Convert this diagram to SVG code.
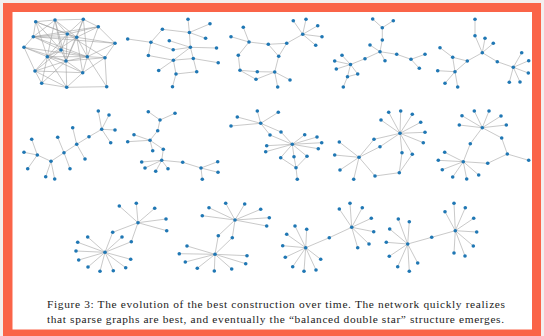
<svg xmlns="http://www.w3.org/2000/svg" width="544" height="336" viewBox="0 0 544 336">
<style>
.nd{fill:#1f77b4}
.ed{fill:none;stroke:#b2b2b2;stroke-width:.7}
.ed.dense{stroke:#9a9a9a;stroke-width:.55}
.cap{font-family:"Liberation Serif","DejaVu Serif",serif;font-size:11.4px;fill:#222}
</style>
<!-- page and frame -->
<rect x="0" y="0" width="544" height="336" fill="#f3efee"/>
<rect x="3" y="3" width="538" height="333" fill="#fa6448"/>
<rect x="12.5" y="12" width="519.5" height="317.5" fill="#fff"/>

<!-- connectors -->
<g id="connectors">
<path id="e1" class="ed dense" d="M35.7 21.7L55 20M35.7 21.7L33.3 36.7M35.7 21.7L67.3 34M35.7 21.7L47.3 56.7M35.7 21.7L61 50M35.7 21.7L76.7 37.3M55 20L83.3 19.3M55 20L33.3 36.7M55 20L67.3 34M55 20L76.7 37.3M55 20L47.3 56.7M55 20L66 61M55 20L61 50M83.3 19.3L98.3 26.7M83.3 19.3L67.3 34M83.3 19.3L76.7 37.3M83.3 19.3L87.3 56.7M83.3 19.3L66 61M98.3 26.7L76.7 37.3M98.3 26.7L115 43.3M98.3 26.7L33.3 36.7M98.3 26.7L87.3 56.7M98.3 26.7L67.3 34M33.3 36.7L24 47.3M33.3 36.7L67.3 34M33.3 36.7L76.7 37.3M33.3 36.7L87.3 56.7M33.3 36.7L61 50M33.3 36.7L115 43.3M67.3 34L76.7 37.3M67.3 34L61 50M67.3 34L66 61M67.3 34L105 57.7M67.3 34L47.3 56.7M76.7 37.3L115 43.3M76.7 37.3L66 61M76.7 37.3L87.3 56.7M76.7 37.3L82.7 72.7M76.7 37.3L47.3 56.7M115 43.3L105 57.7M115 43.3L87.3 56.7M24 47.3L47.3 56.7M24 47.3L35 71M24 47.3L87.3 56.7M24 47.3L66 61M61 50L47.3 56.7M61 50L66 61M61 50L35 71M61 50L87.3 56.7M47.3 56.7L66 61M47.3 56.7L87.3 56.7M47.3 56.7L35 71M47.3 56.7L41.7 83.3M47.3 56.7L66.7 87.3M47.3 56.7L82.7 72.7M66 61L87.3 56.7M66 61L82.7 72.7M66 61L66.7 87.3M66 61L35 71M66 61L41.7 83.3M66 61L105 57.7M87.3 56.7L105 57.7M87.3 56.7L82.7 72.7M87.3 56.7L106.7 86.7M105 57.7L106.7 86.7M105 57.7L82.7 72.7M35 71L82.7 72.7M35 71L41.7 83.3M35 71L66.7 87.3M41.7 83.3L66.7 87.3M66.7 87.3L106.7 86.7M66.7 87.3L82.7 72.7"/>
<path id="e2" class="ed" d="M127.7 39L150.9 42.3M150.9 42.3L162.4 29.3M162.4 29.3L189.4 32.5M188 19.2L189.4 32.5M210 23.8L189.4 32.5M189.4 32.5L205.6 38.3M189.4 32.5L190.4 47.3M169.3 40.7L190.4 47.3M150.9 42.3L173.2 49.8M173.2 49.8L190.4 47.3M190.4 47.3L216.5 48M190.4 47.3L173.4 60.2M190.4 47.3L193.3 58.5M193.3 58.5L218.2 62.7M148.4 55.5L150.9 42.3M148.4 55.5L173.4 60.2M173.4 60.2L193.3 58.5M173.4 60.2L158.7 70.5M173.4 60.2L176 74M176 74L196.7 71.7M196.7 71.7L193.3 58.5M176 74L172.5 86.8"/>
<path id="e3" class="ed" d="M243.3 27.3L249 42M231 36.7L249 42M249 42L268.3 44.3M268.3 44.3L286.7 43.3M286.7 43.3L302.7 34.3M302.7 34.3L293.3 20.7M302.7 34.3L306 19.3M302.7 34.3L317.7 25.7M302.7 34.3L322 36.7M302.7 34.3L315.7 45.3M286.7 43.3L278.7 56.3M268.3 44.3L278.7 56.3M249 42L238.3 55.3M238.3 55.3L240 70.3M240 70.3L257.3 71.7M257.3 71.7L274.7 72M240 70.3L256 79.3M256 79.3L274.7 72M278.7 56.3L274.7 72M274.7 72L290 80M274.7 72L277.7 87"/>
<path id="e4" class="ed" d="M372.7 19L382.3 27.7M393.3 20.7L382.3 27.7M382.3 27.7L382.3 40M382.3 40L380 51.7M370 45L380 51.7M380 51.7L385 60.7M380 51.7L396.7 54.3M380 51.7L365 58.7M365 58.7L350.5 64.5M396.7 54.3L411 59.3M411 59.3L425 54.3M411 59.3L419.3 68.3M350.5 64.5L342 55.3M350.5 64.5L334.7 61M350.5 64.5L336.3 69M350.5 64.5L347.5 76.7M350.5 64.5L357.7 74M347.5 76.7L357.7 74M347.5 76.7L343.3 87"/>
<path id="e5" class="ed" d="M475 19.3L475 35.7M475 35.7L482.3 52.7M485 38.3L482.3 52.7M493.3 43.3L482.3 52.7M482.3 52.7L467.3 61M482.3 52.7L497.3 61.7M497.3 61.7L513.3 67.3M513.3 67.3L521.7 52.7M513.3 67.3L528.7 60.7M513.3 67.3L528.3 73M513.3 67.3L520 82M513.3 67.3L509.3 82.3M467.3 61L452.7 57.3M452.7 57.3L440 47.7M467.3 61L455 71.7M452.7 57.3L455 71.7M455 71.7L437.7 70.7M455 71.7L445 83.3M455 71.7L457.7 87"/>
<path id="e6" class="ed" d="M101.7 129.3L98.3 111M101.7 129.3L109 115M101.7 129.3L115 130M101.7 129.3L110.7 142.7M101.7 129.3L89 136.7M89 136.7L76.7 144.3M76.7 144.3L72.7 127.7M76.7 144.3L85 159M76.7 144.3L64 152.7M64 152.7L57.7 137.3M64 152.7L70 168.7M64 152.7L51 161.3M51 161.3L37.3 155M51 161.3L45.7 176.7M51 161.3L54.7 179M37.3 155L31.7 139.3M37.3 155L24 152.3M37.3 155L27.7 168.7"/>
<path id="e7" class="ed" d="M148.3 111.7L160 120M160 120L175 113.3M160 120L157.7 130.7M157.7 130.7L150 140.3M150 140.3L134 134.7M150 140.3L127.7 141.7M150 140.3L152.7 150.7M150 140.3L163.3 149.3M163.3 149.3L161.7 160.3M161.7 160.3L141.7 162M161.7 160.3L145 168M161.7 160.3L155.7 171.3M161.7 160.3L168 168.7M161.7 160.3L182.7 162.3M182.7 162.3L201 168M201 168L217.7 161.7M201 168L218 172.3M201 168L202.3 179.3"/>
<path id="e8" class="ed" d="M260.7 123.3L257.3 111M260.7 123.3L278.3 112.3M260.7 123.3L237.3 117M260.7 123.3L231 126M260.7 123.3L270 135M260.7 123.3L281 132M270 135L292.3 144.3M281 132L292.3 144.3M292.3 144.3L304.7 134.7M292.3 144.3L317 137M292.3 144.3L321.7 142.7M292.3 144.3L318.3 148.7M292.3 144.3L266.7 145.7M292.3 144.3L265.7 151.7M292.3 144.3L280.7 157.7M292.3 144.3L294 156.7M292.3 144.3L307 156.3M280.7 157.7L296 167.7M294 156.7L296 167.7M307 156.3L296 167.7M296 167.7L297.3 179.3"/>
<path id="e9" class="ed" d="M400 133.3L388.7 112.3M400 133.3L400.7 111M400 133.3L412.3 114.3M400 133.3L381 120M400 133.3L420.7 122.3M400 133.3L425 132.3M400 133.3L423.3 142.7M400 133.3L374 139.3M400 133.3L380 146.7M400 133.3L402 152.7M400 133.3L412.3 154.3M374 139.3L359 157.3M380 146.7L359 157.3M402 152.7L399.3 172.7M412.3 154.3L399.3 172.7M399.3 172.7L375 176M375 176L359 157.3M359 157.3L339.3 142M359 157.3L334.7 155M359 157.3L340 170M359 157.3L353.7 179.3"/>
<path id="e10" class="ed" d="M482.3 127.7L462 115.7M482.3 127.7L474.3 111M482.3 127.7L489 111M482.3 127.7L501 116M482.3 127.7L459.3 125M482.3 127.7L506.3 125M482.3 127.7L501.7 138M501.7 138L507.3 154M507.3 154L528.7 160.3M507.3 154L487.7 163.3M487.7 163.3L463.3 161.7M482.3 127.7L470.3 143.7M470.3 143.7L463.3 161.7M463.3 161.7L444.7 152.3M463.3 161.7L438.3 160.3M463.3 161.7L442.3 169.7M463.3 161.7L452.7 177M463.3 161.7L466.7 179M463.3 161.7L478.7 175"/>
<path id="e11" class="ed" d="M138 222.7L119.3 206M138 222.7L136.3 203.3M138 222.7L154.7 208.3M138 222.7L166 219M138 222.7L166.7 230.7M138 222.7L112.7 232.3M138 222.7L131.3 241.7M112.7 232.3L105 252.3M131.3 241.7L105 252.3M122 237L105 252.3M105 252.3L87.7 237M105 252.3L77.7 242.3M105 252.3L76 251M105 252.3L78.7 260M105 252.3L88 267M105 252.3L100 271.3M105 252.3L113.3 270.7M105 252.3L125.7 267.7M105 252.3L130.7 259.3"/>
<path id="e12" class="ed" d="M235 220L209 207.7M235 220L225.7 203.3M235 220L244.7 204M235 220L260.7 209.3M235 220L202.3 215.7M235 220L269.3 217.7M235 220L266.7 226M235 220L218.3 235.7M218.3 235.7L215 254.3M235 220L232.3 237.7M232.3 237.7L215 254.3M215 254.3L187 246M215 254.3L179.3 253.7M215 254.3L185.3 262M215 254.3L197.3 268.3M215 254.3L214.3 271M215 254.3L231.7 269M215 254.3L245.7 263.7M215 254.3L247 255.7"/>
<path id="e13" class="ed" d="M351.7 227.3L350 203.3M351.7 227.3L362.3 207.7M351.7 227.3L339.3 209M351.7 227.3L371.3 218.3M351.7 227.3L373.7 231.7M351.7 227.3L369 244M351.7 227.3L357.7 247.7M351.7 227.3L329.3 237.7M329.3 237.7L305.7 247.7M305.7 247.7L295 226M305.7 247.7L306.7 229.3M305.7 247.7L286.7 234.3M305.7 247.7L282.7 245.7M305.7 247.7L285.3 257.3M305.7 247.7L292.7 266.7M305.7 247.7L304 271.3M305.7 247.7L316 270M305.7 247.7L320.7 259.3"/>
<path id="e14" class="ed" d="M455.3 230.7L454 203.3M455.3 230.7L445 211.7M455.3 230.7L465.3 207.7M455.3 230.7L473.7 218.3M455.3 230.7L476.7 232M455.3 230.7L473.3 246M455.3 230.7L465 256M455.3 230.7L454 253M455.3 230.7L431.7 237.3M431.7 237.3L407.7 244M407.7 244L398.3 219M407.7 244L409.3 221.7M407.7 244L389.7 229M407.7 244L386.3 242.3M407.7 244L389.3 256.3M407.7 244L397.7 266.7M407.7 244L409.3 271.3M407.7 244L417.7 263"/>
</g>

<!-- graph nodes -->
<g id="graph1">
<circle id="s1-a" class="nd" cx="35.7" cy="21.7" r="1.8"/><circle id="s1-b" class="nd" cx="55" cy="20" r="1.8"/><circle id="s1-c" class="nd" cx="83.3" cy="19.3" r="1.8"/><circle id="s1-d" class="nd" cx="98.3" cy="26.7" r="1.8"/><circle id="s1-e" class="nd" cx="33.3" cy="36.7" r="1.8"/><circle id="s1-f" class="nd" cx="67.3" cy="34" r="1.8"/><circle id="s1-g" class="nd" cx="76.7" cy="37.3" r="1.8"/><circle id="s1-h" class="nd" cx="115" cy="43.3" r="1.8"/><circle id="s1-i" class="nd" cx="24" cy="47.3" r="1.8"/><circle id="s1-j" class="nd" cx="61" cy="50" r="1.8"/><circle id="s1-k" class="nd" cx="47.3" cy="56.7" r="1.8"/><circle id="s1-l" class="nd" cx="66" cy="61" r="1.8"/><circle id="s1-m" class="nd" cx="87.3" cy="56.7" r="1.8"/><circle id="s1-n" class="nd" cx="105" cy="57.7" r="1.8"/><circle id="s1-o" class="nd" cx="35" cy="71" r="1.8"/><circle id="s1-p" class="nd" cx="82.7" cy="72.7" r="1.8"/><circle id="s1-q" class="nd" cx="41.7" cy="83.3" r="1.8"/><circle id="s1-r" class="nd" cx="66.7" cy="87.3" r="1.8"/><circle id="s1-s" class="nd" cx="106.7" cy="86.7" r="1.8"/>
</g>
<g id="graph2">
<circle id="s2-1" class="nd" cx="127.7" cy="39" r="1.8"/><circle id="s2-2" class="nd" cx="150.9" cy="42.3" r="1.8"/><circle id="s2-3" class="nd" cx="162.4" cy="29.3" r="1.8"/><circle id="s2-4" class="nd" cx="188" cy="19.2" r="1.8"/><circle id="s2-5" class="nd" cx="210" cy="23.8" r="1.8"/><circle id="s2-6" class="nd" cx="189.4" cy="32.5" r="1.8"/><circle id="s2-7" class="nd" cx="169.3" cy="40.7" r="1.8"/><circle id="s2-8" class="nd" cx="205.6" cy="38.3" r="1.8"/><circle id="s2-9" class="nd" cx="173.2" cy="49.8" r="1.8"/><circle id="s2-10" class="nd" cx="190.4" cy="47.3" r="1.8"/><circle id="s2-11" class="nd" cx="216.5" cy="48" r="1.8"/><circle id="s2-12" class="nd" cx="148.4" cy="55.5" r="1.8"/><circle id="s2-13" class="nd" cx="173.4" cy="60.2" r="1.8"/><circle id="s2-14" class="nd" cx="193.3" cy="58.5" r="1.8"/><circle id="s2-15" class="nd" cx="218.2" cy="62.7" r="1.8"/><circle id="s2-16" class="nd" cx="158.7" cy="70.5" r="1.8"/><circle id="s2-17" class="nd" cx="176" cy="74" r="1.8"/><circle id="s2-18" class="nd" cx="196.7" cy="71.7" r="1.8"/><circle id="s2-19" class="nd" cx="172.5" cy="86.8" r="1.8"/>
</g>
<g id="graph3">
<circle id="s3-1" class="nd" cx="243.3" cy="27.3" r="1.8"/><circle id="s3-2" class="nd" cx="231" cy="36.7" r="1.8"/><circle id="s3-3" class="nd" cx="249" cy="42" r="1.8"/><circle id="s3-4" class="nd" cx="268.3" cy="44.3" r="1.8"/><circle id="s3-5" class="nd" cx="286.7" cy="43.3" r="1.8"/><circle id="s3-6" class="nd" cx="302.7" cy="34.3" r="1.8"/><circle id="s3-7" class="nd" cx="293.3" cy="20.7" r="1.8"/><circle id="s3-8" class="nd" cx="306" cy="19.3" r="1.8"/><circle id="s3-9" class="nd" cx="317.7" cy="25.7" r="1.8"/><circle id="s3-10" class="nd" cx="322" cy="36.7" r="1.8"/><circle id="s3-11" class="nd" cx="315.7" cy="45.3" r="1.8"/><circle id="s3-12" class="nd" cx="238.3" cy="55.3" r="1.8"/><circle id="s3-13" class="nd" cx="278.7" cy="56.3" r="1.8"/><circle id="s3-14" class="nd" cx="240" cy="70.3" r="1.8"/><circle id="s3-15" class="nd" cx="257.3" cy="71.7" r="1.8"/><circle id="s3-16" class="nd" cx="274.7" cy="72" r="1.8"/><circle id="s3-17" class="nd" cx="256" cy="79.3" r="1.8"/><circle id="s3-18" class="nd" cx="290" cy="80" r="1.8"/><circle id="s3-19" class="nd" cx="277.7" cy="87" r="1.8"/>
</g>
<g id="graph4">
<circle id="s4-1" class="nd" cx="372.7" cy="19" r="1.8"/><circle id="s4-2" class="nd" cx="393.3" cy="20.7" r="1.8"/><circle id="s4-3" class="nd" cx="382.3" cy="27.7" r="1.8"/><circle id="s4-4" class="nd" cx="382.3" cy="40" r="1.8"/><circle id="s4-5" class="nd" cx="370" cy="45" r="1.8"/><circle id="s4-6" class="nd" cx="380" cy="51.7" r="1.8"/><circle id="s4-7" class="nd" cx="365" cy="58.7" r="1.8"/><circle id="s4-8" class="nd" cx="385" cy="60.7" r="1.8"/><circle id="s4-9" class="nd" cx="396.7" cy="54.3" r="1.8"/><circle id="s4-10" class="nd" cx="411" cy="59.3" r="1.8"/><circle id="s4-11" class="nd" cx="425" cy="54.3" r="1.8"/><circle id="s4-12" class="nd" cx="419.3" cy="68.3" r="1.8"/><circle id="s4-13" class="nd" cx="350.5" cy="64.5" r="1.8"/><circle id="s4-14" class="nd" cx="342" cy="55.3" r="1.8"/><circle id="s4-15" class="nd" cx="334.7" cy="61" r="1.8"/><circle id="s4-16" class="nd" cx="336.3" cy="69" r="1.8"/><circle id="s4-17" class="nd" cx="347.5" cy="76.7" r="1.8"/><circle id="s4-18" class="nd" cx="357.7" cy="74" r="1.8"/><circle id="s4-19" class="nd" cx="343.3" cy="87" r="1.8"/>
</g>
<g id="graph5">
<circle id="s5-1" class="nd" cx="475" cy="19.3" r="1.8"/><circle id="s5-2" class="nd" cx="475" cy="35.7" r="1.8"/><circle id="s5-3" class="nd" cx="485" cy="38.3" r="1.8"/><circle id="s5-4" class="nd" cx="493.3" cy="43.3" r="1.8"/><circle id="s5-5" class="nd" cx="482.3" cy="52.7" r="1.8"/><circle id="s5-6" class="nd" cx="440" cy="47.7" r="1.8"/><circle id="s5-7" class="nd" cx="452.7" cy="57.3" r="1.8"/><circle id="s5-8" class="nd" cx="467.3" cy="61" r="1.8"/><circle id="s5-9" class="nd" cx="437.7" cy="70.7" r="1.8"/><circle id="s5-10" class="nd" cx="455" cy="71.7" r="1.8"/><circle id="s5-11" class="nd" cx="445" cy="83.3" r="1.8"/><circle id="s5-12" class="nd" cx="457.7" cy="87" r="1.8"/><circle id="s5-13" class="nd" cx="497.3" cy="61.7" r="1.8"/><circle id="s5-14" class="nd" cx="513.3" cy="67.3" r="1.8"/><circle id="s5-15" class="nd" cx="521.7" cy="52.7" r="1.8"/><circle id="s5-16" class="nd" cx="528.7" cy="60.7" r="1.8"/><circle id="s5-17" class="nd" cx="528.3" cy="73" r="1.8"/><circle id="s5-18" class="nd" cx="520" cy="82" r="1.8"/><circle id="s5-19" class="nd" cx="509.3" cy="82.3" r="1.8"/>
</g>
<g id="graph6">
<circle id="s6-1" class="nd" cx="98.3" cy="111" r="1.8"/><circle id="s6-2" class="nd" cx="109" cy="115" r="1.8"/><circle id="s6-3" class="nd" cx="101.7" cy="129.3" r="1.8"/><circle id="s6-4" class="nd" cx="115" cy="130" r="1.8"/><circle id="s6-5" class="nd" cx="110.7" cy="142.7" r="1.8"/><circle id="s6-6" class="nd" cx="89" cy="136.7" r="1.8"/><circle id="s6-7" class="nd" cx="72.7" cy="127.7" r="1.8"/><circle id="s6-8" class="nd" cx="76.7" cy="144.3" r="1.8"/><circle id="s6-9" class="nd" cx="85" cy="159" r="1.8"/><circle id="s6-10" class="nd" cx="57.7" cy="137.3" r="1.8"/><circle id="s6-11" class="nd" cx="64" cy="152.7" r="1.8"/><circle id="s6-12" class="nd" cx="70" cy="168.7" r="1.8"/><circle id="s6-13" class="nd" cx="31.7" cy="139.3" r="1.8"/><circle id="s6-14" class="nd" cx="37.3" cy="155" r="1.8"/><circle id="s6-15" class="nd" cx="24" cy="152.3" r="1.8"/><circle id="s6-16" class="nd" cx="27.7" cy="168.7" r="1.8"/><circle id="s6-17" class="nd" cx="51" cy="161.3" r="1.8"/><circle id="s6-18" class="nd" cx="45.7" cy="176.7" r="1.8"/><circle id="s6-19" class="nd" cx="54.7" cy="179" r="1.8"/>
</g>
<g id="graph7">
<circle id="s7-1" class="nd" cx="148.3" cy="111.7" r="1.8"/><circle id="s7-2" class="nd" cx="160" cy="120" r="1.8"/><circle id="s7-3" class="nd" cx="175" cy="113.3" r="1.8"/><circle id="s7-4" class="nd" cx="157.7" cy="130.7" r="1.8"/><circle id="s7-5" class="nd" cx="134" cy="134.7" r="1.8"/><circle id="s7-6" class="nd" cx="127.7" cy="141.7" r="1.8"/><circle id="s7-7" class="nd" cx="150" cy="140.3" r="1.8"/><circle id="s7-8" class="nd" cx="152.7" cy="150.7" r="1.8"/><circle id="s7-9" class="nd" cx="163.3" cy="149.3" r="1.8"/><circle id="s7-10" class="nd" cx="161.7" cy="160.3" r="1.8"/><circle id="s7-11" class="nd" cx="141.7" cy="162" r="1.8"/><circle id="s7-12" class="nd" cx="145" cy="168" r="1.8"/><circle id="s7-13" class="nd" cx="155.7" cy="171.3" r="1.8"/><circle id="s7-14" class="nd" cx="168" cy="168.7" r="1.8"/><circle id="s7-15" class="nd" cx="182.7" cy="162.3" r="1.8"/><circle id="s7-16" class="nd" cx="201" cy="168" r="1.8"/><circle id="s7-17" class="nd" cx="217.7" cy="161.7" r="1.8"/><circle id="s7-18" class="nd" cx="218" cy="172.3" r="1.8"/><circle id="s7-19" class="nd" cx="202.3" cy="179.3" r="1.8"/>
</g>
<g id="graph8">
<circle id="s8-1" class="nd" cx="257.3" cy="111" r="1.8"/><circle id="s8-2" class="nd" cx="278.3" cy="112.3" r="1.8"/><circle id="s8-3" class="nd" cx="237.3" cy="117" r="1.8"/><circle id="s8-4" class="nd" cx="231" cy="126" r="1.8"/><circle id="s8-5" class="nd" cx="260.7" cy="123.3" r="1.8"/><circle id="s8-6" class="nd" cx="270" cy="135" r="1.8"/><circle id="s8-7" class="nd" cx="281" cy="132" r="1.8"/><circle id="s8-8" class="nd" cx="292.3" cy="144.3" r="1.8"/><circle id="s8-9" class="nd" cx="304.7" cy="134.7" r="1.8"/><circle id="s8-10" class="nd" cx="317" cy="137" r="1.8"/><circle id="s8-11" class="nd" cx="321.7" cy="142.7" r="1.8"/><circle id="s8-12" class="nd" cx="318.3" cy="148.7" r="1.8"/><circle id="s8-13" class="nd" cx="266.7" cy="145.7" r="1.8"/><circle id="s8-14" class="nd" cx="265.7" cy="151.7" r="1.8"/><circle id="s8-15" class="nd" cx="280.7" cy="157.7" r="1.8"/><circle id="s8-16" class="nd" cx="294" cy="156.7" r="1.8"/><circle id="s8-17" class="nd" cx="307" cy="156.3" r="1.8"/><circle id="s8-18" class="nd" cx="296" cy="167.7" r="1.8"/><circle id="s8-19" class="nd" cx="297.3" cy="179.3" r="1.8"/>
</g>
<g id="graph9">
<circle id="s9-1" class="nd" cx="388.7" cy="112.3" r="1.8"/><circle id="s9-2" class="nd" cx="400.7" cy="111" r="1.8"/><circle id="s9-3" class="nd" cx="412.3" cy="114.3" r="1.8"/><circle id="s9-4" class="nd" cx="381" cy="120" r="1.8"/><circle id="s9-5" class="nd" cx="420.7" cy="122.3" r="1.8"/><circle id="s9-6" class="nd" cx="425" cy="132.3" r="1.8"/><circle id="s9-7" class="nd" cx="400" cy="133.3" r="1.8"/><circle id="s9-8" class="nd" cx="423.3" cy="142.7" r="1.8"/><circle id="s9-9" class="nd" cx="374" cy="139.3" r="1.8"/><circle id="s9-10" class="nd" cx="380" cy="146.7" r="1.8"/><circle id="s9-11" class="nd" cx="402" cy="152.7" r="1.8"/><circle id="s9-12" class="nd" cx="412.3" cy="154.3" r="1.8"/><circle id="s9-13" class="nd" cx="359" cy="157.3" r="1.8"/><circle id="s9-14" class="nd" cx="399.3" cy="172.7" r="1.8"/><circle id="s9-15" class="nd" cx="375" cy="176" r="1.8"/><circle id="s9-16" class="nd" cx="339.3" cy="142" r="1.8"/><circle id="s9-17" class="nd" cx="334.7" cy="155" r="1.8"/><circle id="s9-18" class="nd" cx="340" cy="170" r="1.8"/><circle id="s9-19" class="nd" cx="353.7" cy="179.3" r="1.8"/>
</g>
<g id="graph10">
<circle id="s10-1" class="nd" cx="462" cy="115.7" r="1.8"/><circle id="s10-2" class="nd" cx="474.3" cy="111" r="1.8"/><circle id="s10-3" class="nd" cx="489" cy="111" r="1.8"/><circle id="s10-4" class="nd" cx="501" cy="116" r="1.8"/><circle id="s10-5" class="nd" cx="459.3" cy="125" r="1.8"/><circle id="s10-6" class="nd" cx="506.3" cy="125" r="1.8"/><circle id="s10-7" class="nd" cx="482.3" cy="127.7" r="1.8"/><circle id="s10-8" class="nd" cx="501.7" cy="138" r="1.8"/><circle id="s10-9" class="nd" cx="470.3" cy="143.7" r="1.8"/><circle id="s10-10" class="nd" cx="507.3" cy="154" r="1.8"/><circle id="s10-11" class="nd" cx="528.7" cy="160.3" r="1.8"/><circle id="s10-12" class="nd" cx="444.7" cy="152.3" r="1.8"/><circle id="s10-13" class="nd" cx="438.3" cy="160.3" r="1.8"/><circle id="s10-14" class="nd" cx="463.3" cy="161.7" r="1.8"/><circle id="s10-15" class="nd" cx="487.7" cy="163.3" r="1.8"/><circle id="s10-16" class="nd" cx="442.3" cy="169.7" r="1.8"/><circle id="s10-17" class="nd" cx="452.7" cy="177" r="1.8"/><circle id="s10-18" class="nd" cx="466.7" cy="179" r="1.8"/><circle id="s10-19" class="nd" cx="478.7" cy="175" r="1.8"/>
</g>
<g id="graph11">
<circle id="s11-1" class="nd" cx="119.3" cy="206" r="1.8"/><circle id="s11-2" class="nd" cx="136.3" cy="203.3" r="1.8"/><circle id="s11-3" class="nd" cx="154.7" cy="208.3" r="1.8"/><circle id="s11-4" class="nd" cx="166" cy="219" r="1.8"/><circle id="s11-5" class="nd" cx="166.7" cy="230.7" r="1.8"/><circle id="s11-6" class="nd" cx="138" cy="222.7" r="1.8"/><circle id="s11-7" class="nd" cx="112.7" cy="232.3" r="1.8"/><circle id="s11-8" class="nd" cx="122" cy="237" r="1.8"/><circle id="s11-9" class="nd" cx="131.3" cy="241.7" r="1.8"/><circle id="s11-10" class="nd" cx="105" cy="252.3" r="1.8"/><circle id="s11-11" class="nd" cx="87.7" cy="237" r="1.8"/><circle id="s11-12" class="nd" cx="77.7" cy="242.3" r="1.8"/><circle id="s11-13" class="nd" cx="76" cy="251" r="1.8"/><circle id="s11-14" class="nd" cx="78.7" cy="260" r="1.8"/><circle id="s11-15" class="nd" cx="88" cy="267" r="1.8"/><circle id="s11-16" class="nd" cx="100" cy="271.3" r="1.8"/><circle id="s11-17" class="nd" cx="113.3" cy="270.7" r="1.8"/><circle id="s11-18" class="nd" cx="125.7" cy="267.7" r="1.8"/><circle id="s11-19" class="nd" cx="130.7" cy="259.3" r="1.8"/>
</g>
<g id="graph12">
<circle id="s12-1" class="nd" cx="209" cy="207.7" r="1.8"/><circle id="s12-2" class="nd" cx="225.7" cy="203.3" r="1.8"/><circle id="s12-3" class="nd" cx="244.7" cy="204" r="1.8"/><circle id="s12-4" class="nd" cx="260.7" cy="209.3" r="1.8"/><circle id="s12-5" class="nd" cx="202.3" cy="215.7" r="1.8"/><circle id="s12-6" class="nd" cx="235" cy="220" r="1.8"/><circle id="s12-7" class="nd" cx="269.3" cy="217.7" r="1.8"/><circle id="s12-8" class="nd" cx="266.7" cy="226" r="1.8"/><circle id="s12-9" class="nd" cx="218.3" cy="235.7" r="1.8"/><circle id="s12-10" class="nd" cx="232.3" cy="237.7" r="1.8"/><circle id="s12-11" class="nd" cx="215" cy="254.3" r="1.8"/><circle id="s12-12" class="nd" cx="187" cy="246" r="1.8"/><circle id="s12-13" class="nd" cx="179.3" cy="253.7" r="1.8"/><circle id="s12-14" class="nd" cx="185.3" cy="262" r="1.8"/><circle id="s12-15" class="nd" cx="197.3" cy="268.3" r="1.8"/><circle id="s12-16" class="nd" cx="214.3" cy="271" r="1.8"/><circle id="s12-17" class="nd" cx="231.7" cy="269" r="1.8"/><circle id="s12-18" class="nd" cx="245.7" cy="263.7" r="1.8"/><circle id="s12-19" class="nd" cx="247" cy="255.7" r="1.8"/>
</g>
<g id="graph13">
<circle id="s13-1" class="nd" cx="350" cy="203.3" r="1.8"/><circle id="s13-2" class="nd" cx="362.3" cy="207.7" r="1.8"/><circle id="s13-3" class="nd" cx="339.3" cy="209" r="1.8"/><circle id="s13-4" class="nd" cx="371.3" cy="218.3" r="1.8"/><circle id="s13-5" class="nd" cx="351.7" cy="227.3" r="1.8"/><circle id="s13-6" class="nd" cx="373.7" cy="231.7" r="1.8"/><circle id="s13-7" class="nd" cx="369" cy="244" r="1.8"/><circle id="s13-8" class="nd" cx="357.7" cy="247.7" r="1.8"/><circle id="s13-9" class="nd" cx="329.3" cy="237.7" r="1.8"/><circle id="s13-10" class="nd" cx="305.7" cy="247.7" r="1.8"/><circle id="s13-11" class="nd" cx="295" cy="226" r="1.8"/><circle id="s13-12" class="nd" cx="306.7" cy="229.3" r="1.8"/><circle id="s13-13" class="nd" cx="286.7" cy="234.3" r="1.8"/><circle id="s13-14" class="nd" cx="282.7" cy="245.7" r="1.8"/><circle id="s13-15" class="nd" cx="285.3" cy="257.3" r="1.8"/><circle id="s13-16" class="nd" cx="292.7" cy="266.7" r="1.8"/><circle id="s13-17" class="nd" cx="304" cy="271.3" r="1.8"/><circle id="s13-18" class="nd" cx="316" cy="270" r="1.8"/><circle id="s13-19" class="nd" cx="320.7" cy="259.3" r="1.8"/>
</g>
<g id="graph14">
<circle id="s14-1" class="nd" cx="454" cy="203.3" r="1.8"/><circle id="s14-2" class="nd" cx="445" cy="211.7" r="1.8"/><circle id="s14-3" class="nd" cx="465.3" cy="207.7" r="1.8"/><circle id="s14-4" class="nd" cx="473.7" cy="218.3" r="1.8"/><circle id="s14-5" class="nd" cx="455.3" cy="230.7" r="1.8"/><circle id="s14-6" class="nd" cx="476.7" cy="232" r="1.8"/><circle id="s14-7" class="nd" cx="473.3" cy="246" r="1.8"/><circle id="s14-8" class="nd" cx="465" cy="256" r="1.8"/><circle id="s14-9" class="nd" cx="454" cy="253" r="1.8"/><circle id="s14-10" class="nd" cx="431.7" cy="237.3" r="1.8"/><circle id="s14-11" class="nd" cx="407.7" cy="244" r="1.8"/><circle id="s14-12" class="nd" cx="398.3" cy="219" r="1.8"/><circle id="s14-13" class="nd" cx="409.3" cy="221.7" r="1.8"/><circle id="s14-14" class="nd" cx="389.7" cy="229" r="1.8"/><circle id="s14-15" class="nd" cx="386.3" cy="242.3" r="1.8"/><circle id="s14-16" class="nd" cx="389.3" cy="256.3" r="1.8"/><circle id="s14-17" class="nd" cx="397.7" cy="266.7" r="1.8"/><circle id="s14-18" class="nd" cx="409.3" cy="271.3" r="1.8"/><circle id="s14-19" class="nd" cx="417.7" cy="263" r="1.8"/>
</g>

<!-- caption -->
<g id="caption">
<text class="cap" x="47" y="307.5" textLength="458" lengthAdjust="spacing">Figure 3: The evolution of the best construction over time. The network quickly realizes</text>
<text class="cap" x="47" y="323" textLength="457" lengthAdjust="spacing">that sparse graphs are best, and eventually the “balanced double star” structure emerges.</text>
</g>
</svg>
